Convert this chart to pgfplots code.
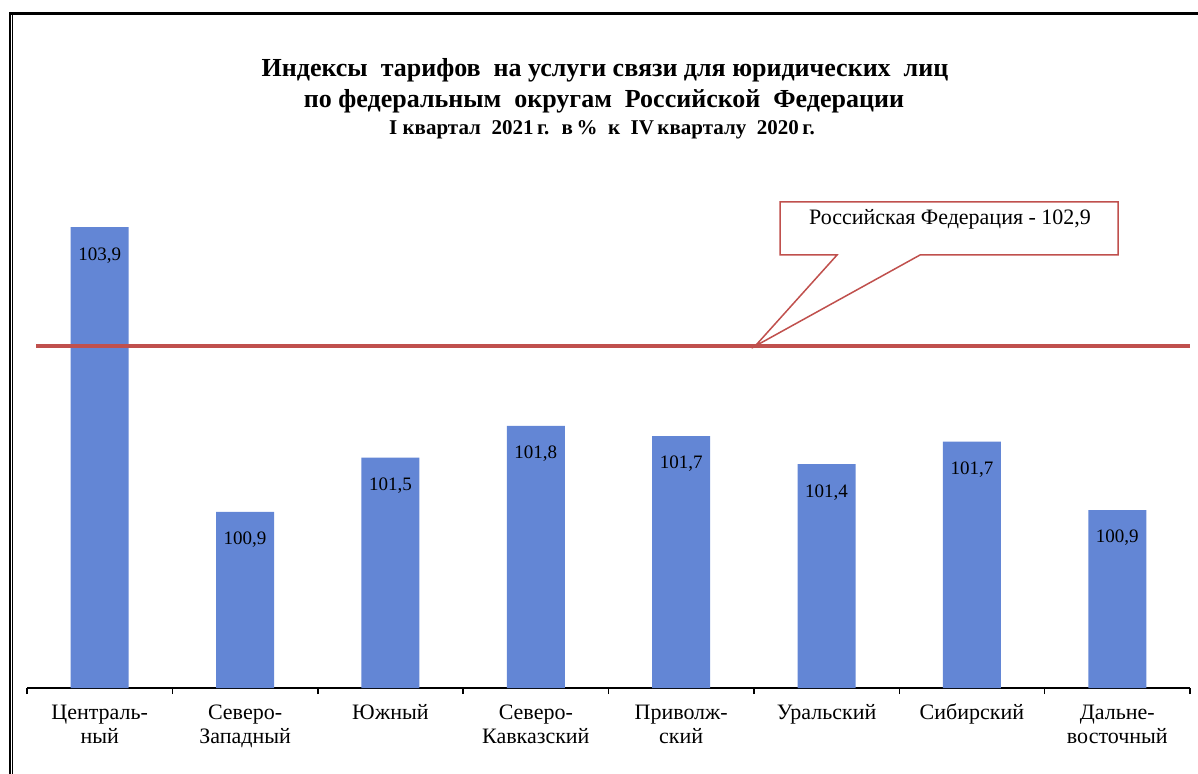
\documentclass[border=0pt]{standalone}
\usepackage{fontspec}
\setmainfont{Liberation Serif}
\usepackage{pgfplots}
\pgfplotsset{compat=1.18}
\usepackage{pgfplotstable}
\definecolor{barblue}{RGB}{99,134,213}
\definecolor{linered}{RGB}{192,80,77}

\pgfplotstableread{
x y lab
0 103.92 103,9
1 100.88 100,9
2 101.46 101,5
3 101.80 101,8
4 101.69 101,7
5 101.39 101,4
6 101.63 101,7
7 100.90 100,9
}\datatab

\begin{document}
\begin{tikzpicture}[x=0.5pt,y=-0.5pt]
\path[use as bounding box] (0,0) rectangle (1198,774);
% frame
\draw[line width=1.5pt] (9,13.5) -- (1198,13.5);
\draw[line width=1pt] (10,12) -- (10,774);
\draw[line width=0.5pt] (12.7,15) -- (12.7,774);
% titles
\node[font=\bfseries\fontsize{13}{15}\selectfont] at (605,70) {Индексы~ тарифов~ на услуги связи для юридических~ лиц};
\node[font=\bfseries\fontsize{13}{15}\selectfont] at (604,101) {по федеральным~ округам~ Российской~ Федерации};
\node[font=\bfseries\fontsize{10.5}{12}\selectfont] at (602,130) {I квартал~ 2021\,г.~ в\,\%~ к~ IV\,кварталу~ 2020\,г.};
\begin{axis}[
  at={(13.5pt,-344pt)}, anchor=south west,
  scale only axis, width=581.5pt, height=243.5pt,
  xmin=-0.5, xmax=7.5, ymin=99, ymax=104.2,
  axis x line=bottom, axis y line=none,
  x axis line style={-, line width=0.75pt},
  xtick={0,...,7},
  xticklabels={{Централь-\\ный},{Северо-\\Западный},{Южный},{Северо-\\Кавказский},{Приволж-\\ский},{Уральский},{Сибирский},{Дальне-\\восточный}},
  typeset ticklabels with strut,
  major tick length=0pt,
  minor xtick={-0.5,0.5,...,7.5},
  minor tick length=3pt,
  tick align=outside,
  tick style={black, line width=0.75pt},
  xticklabel style={font=\fontsize{11}{12}\selectfont, align=center, anchor=north, yshift=-4pt},
  clip=false,
]
\addplot[ybar, bar width=29pt, fill=barblue, draw=none,
  nodes near coords, point meta=explicit symbolic,
  nodes near coords style={anchor=center, yshift=-14pt, font=\fontsize{9.5}{11}\selectfont, text=black}]
  table[x=x, y=y, meta=lab] {\datatab};
\addplot[linered, line width=2pt, sharp plot, mark=none] coordinates {(-0.438,102.65) (7.5,102.65)};
\coordinate (tip) at (axis cs:4.508,102.65);
\end{axis}
\draw[linered, line width=0.75pt, fill=white, line join=miter] (780,202) -- (1118,202) -- (1118,255) -- (920,255) -- (tip) -- (837,255) -- (780,255) -- cycle;
\node[font=\fontsize{11}{12}\selectfont] at (950,219) {Российская Федерация - 102,9};
\end{tikzpicture}
\end{document}
